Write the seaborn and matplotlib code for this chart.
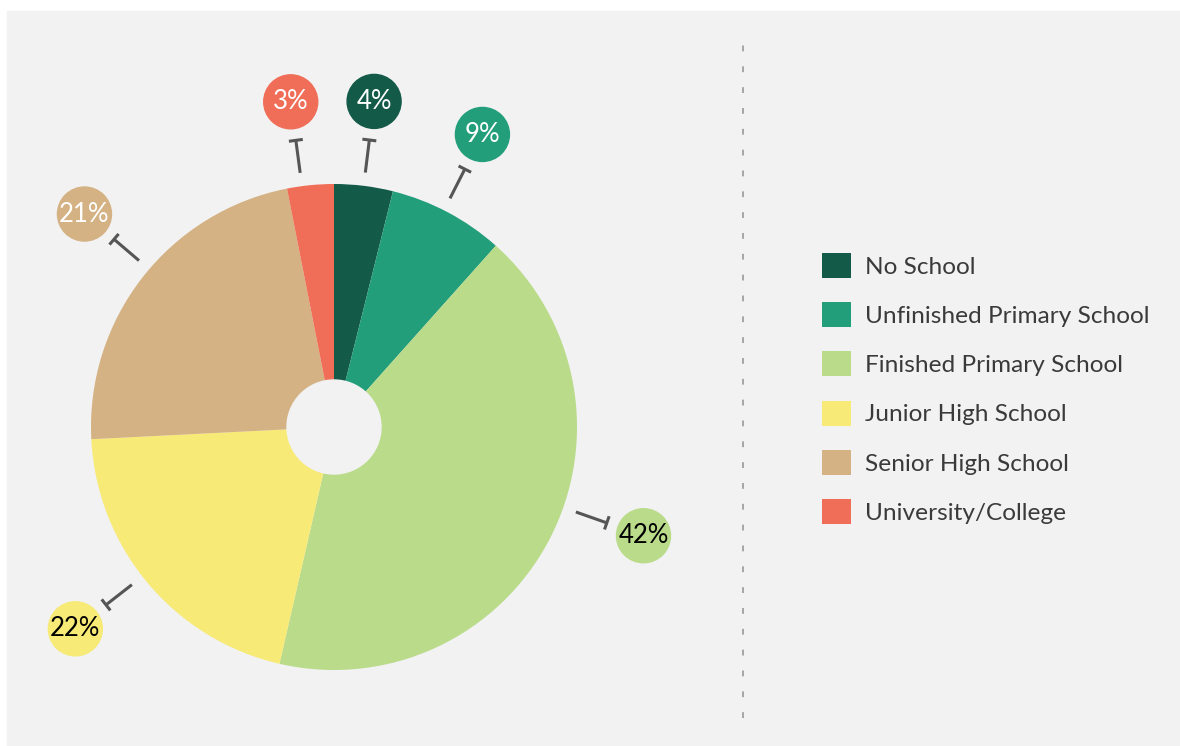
import numpy as np
import matplotlib
matplotlib.use("Agg")
import matplotlib.pyplot as plt
import seaborn as sns
from matplotlib.patches import Rectangle, Circle

categories = ["No School", "Unfinished Primary School", "Finished Primary School",
              "Junior High School", "Senior High School", "University/College"]
shares = [3.9, 7.7, 42.0, 20.6, 22.7, 3.1]
labels = ["4%", "9%", "42%", "22%", "21%", "3%"]
colors = ["#135a49", "#239e7a", "#b9db8a", "#f7ea76", "#d4b283", "#f06e58"]
label_text_colors = ["white", "white", "black", "black", "white", "white"]

sns.set_theme(style="white")
plt.rcParams["font.family"] = ["Lato", "DejaVu Sans"]

bg = "#f2f2f2"
fig = plt.figure(figsize=(11.8, 7.46), dpi=100)
ax = fig.add_axes([0, 0, 1, 1])

# grey panel
ax.add_patch(Rectangle((7, 0), 1173, 735, color=bg, zorder=0))

cx, cy, R = 334, 319, 243
wedges, _ = ax.pie(shares, colors=colors, startangle=90, counterclock=False,
                   center=(cx, cy), radius=R, frame=True,
                   wedgeprops=dict(linewidth=0))
ax.add_patch(Circle((cx, cy), 47, color=bg, zorder=5))
ax.set_xlim(0, 1180)
ax.set_ylim(0, 746)
ax.set_aspect("auto")
ax.axis("off")

# bubble labels with T-shaped leaders
nudge = [0, 1, 8, -2, -2.5, 2]
for i, w in enumerate(wedges):
    mid = (w.theta1 + w.theta2) / 2 + nudge[i]
    a = np.deg2rad(mid)
    ux, uy = np.cos(a), np.sin(a)
    px, py = -uy, ux
    r0, r1 = 1.055 * R, 1.19 * R
    ax.plot([cx + r0 * ux, cx + r1 * ux], [cy + r0 * uy, cy + r1 * uy],
            color="#555555", lw=2.2, solid_capstyle="butt", zorder=6)
    ex, ey = cx + r1 * ux, cy + r1 * uy
    ax.plot([ex - 7 * px, ex + 7 * px], [ey - 7 * py, ey + 7 * py],
            color="#555555", lw=2.2, solid_capstyle="butt", zorder=6)
    bx, by = cx + 1.35 * R * ux, cy + 1.35 * R * uy
    ax.add_patch(Circle((bx, by), 27, color=colors[i], zorder=6))
    ax.text(bx, by, labels[i], ha="center", va="center", fontsize=18.5,
            color=label_text_colors[i], zorder=7)

# dashed divider
ax.plot([743, 743], [28, 703], color="#999999", lw=1.2, ls=(0, (3.5, 9)))

leg = ax.legend(wedges, categories, loc="upper left",
                bbox_to_anchor=(812 / 1180, (746 - 243) / 746),
                frameon=False, fontsize=17.6, handlelength=1.2, handleheight=1.2,
                handletextpad=0.55, labelspacing=0.99, borderaxespad=0)
for t in leg.get_texts():
    t.set_color("#3a3a3a")

fig.savefig("out.png", dpi=100, facecolor="white")
